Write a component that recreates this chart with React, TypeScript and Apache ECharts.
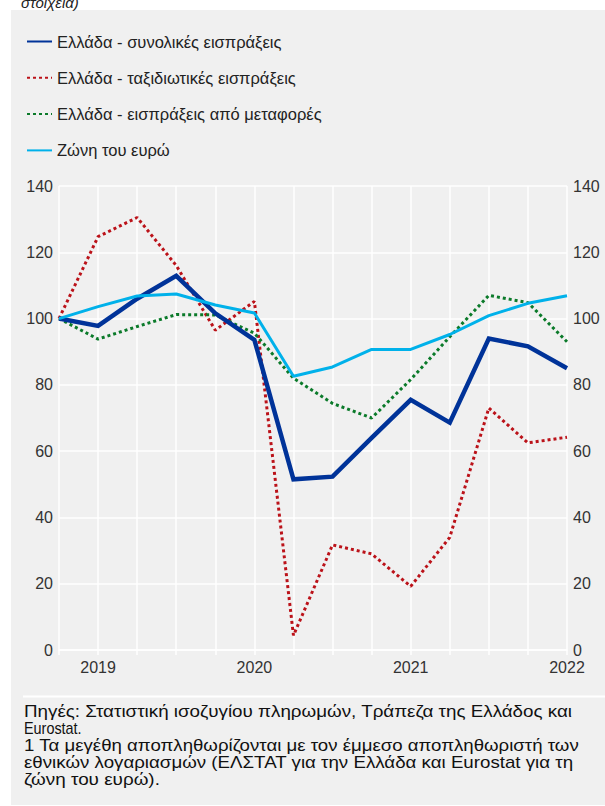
import React, { useEffect, useRef } from "react";
import * as echarts from "echarts";

// Quarters (index 0 = base period, index 1 = 2019 Q1 ... index 13 = 2022 Q1)
const categories = [
  "2018Q4", "2019Q1", "2019Q2", "2019Q3", "2019Q4",
  "2020Q1", "2020Q2", "2020Q3", "2020Q4",
  "2021Q1", "2021Q2", "2021Q3", "2021Q4", "2022Q1",
];

const seriesNames = [
  "Ελλάδα - συνολικές εισπράξεις",
  "Ελλάδα - ταξιδιωτικές εισπράξεις",
  "Ελλάδα - εισπράξεις από μεταφορές",
  "Ζώνη του ευρώ",
];

const greeceTotal = [100, 97.8, 106, 112.9, 101.6, 93.6, 51.5, 52.3, 64, 75.5, 68.6, 94, 91.6, 85];
const greeceTravel = [100, 124.7, 130.5, 116, 96.5, 105.2, 4.4, 31.7, 29, 19.2, 34, 73, 62.5, 64.2];
const greeceTransport = [100, 93.8, 97.6, 101.2, 101.1, 95.6, 82, 74.4, 70, 81.6, 94.5, 107, 104.8, 93];
const euroArea = [100, 103.6, 106.8, 107.4, 104.1, 101.7, 82.6, 85.4, 90.7, 90.7, 95.2, 100.9, 104.6, 106.9];

const yMin = 0;
const yMax = 140;
const yInterval = 20;

const headerText = "στοιχεία)";
const footnoteLines = [
  "Πηγές: Στατιστική ισοζυγίου πληρωμών, Τράπεζα της Ελλάδος και",
  "Eurostat.",
  "1 Τα μεγέθη αποπληθωρίζονται με τον έμμεσο αποπληθωριστή των",
  "εθνικών λογαριασμών (ΕΛΣΤΑΤ για την Ελλάδα και Eurostat για τη",
  "ζώνη του ευρώ).",
];

// horizontal stretch applied to each footnote line so the widths follow the original typeface
const footnoteStretch = [1.175, 0.9, 1.165, 1.17, 1.18];

const FONT = "'Liberation Sans', Arial, Helvetica, sans-serif";
const BG = "#f0f0f0";
const TXT = "#222222";

export default function App() {
  const ref = useRef<HTMLDivElement>(null);

  useEffect(() => {
    if (!ref.current) return;
    const chart = echarts.init(ref.current, undefined, { renderer: "svg" });

    const yAxisBase = {
      type: "value",
      min: yMin,
      max: yMax,
      interval: yInterval,
      axisLine: { show: false },
      axisTick: { show: false },
    };

    const footnoteTop = 711.5;
    const footnoteLead = 17;

    chart.setOption({
      animation: false,
      backgroundColor: "#ffffff",
      textStyle: { fontFamily: FONT },
      grid: { left: 59, right: 38, top: 186, bottom: 156, containLabel: false },
      legend: {
        orient: "vertical",
        left: 21,
        top: 28,
        itemWidth: 25,
        itemHeight: 16,
        itemGap: 19.3,
        data: seriesNames,
        itemStyle: { opacity: 0 },
        textStyle: { color: TXT, fontSize: 16.5, fontFamily: FONT },
        selectedMode: false,
      },
      xAxis: {
        type: "category",
        data: categories,
        boundaryGap: false,
        axisLine: { show: true, lineStyle: { color: "#ffffff", width: 1.5 } },
        axisTick: { show: true, interval: 0, length: 5, lineStyle: { color: "#ffffff", width: 1.5 } },
        splitLine: { show: true, interval: 0, lineStyle: { color: "#ffffff", width: 1.5 } },
        axisLabel: {
          interval: 0,
          margin: 9,
          color: "#333333",
          fontSize: 16,
          fontFamily: FONT,
          formatter: (v: string) => (v.endsWith("Q1") ? v.slice(0, 4) : ""),
        },
      },
      yAxis: [
        {
          ...yAxisBase,
          position: "left",
          splitLine: { show: true, lineStyle: { color: "#ffffff", width: 1.5 } },
          axisLabel: { margin: 6, color: "#333333", fontSize: 16, fontFamily: FONT },
        },
        {
          ...yAxisBase,
          position: "right",
          splitLine: { show: false },
          axisLabel: { margin: 6, color: "#333333", fontSize: 16, fontFamily: FONT },
        },
      ],
      series: [
        {
          name: seriesNames[0],
          type: "line",
          data: greeceTotal,
          symbol: "none",
          z: 4,
          lineStyle: { color: "#003399", width: 4.5, cap: "butt", join: "miter" },
          itemStyle: { color: "#003399" },
        },
        {
          name: seriesNames[1],
          type: "line",
          data: greeceTravel,
          symbol: "none",
          z: 3,
          lineStyle: { color: "#bb1219", width: 3, type: [3, 3], cap: "butt" },
          itemStyle: { color: "#bb1219" },
        },
        {
          name: seriesNames[2],
          type: "line",
          data: greeceTransport,
          symbol: "none",
          z: 3,
          lineStyle: { color: "#0b7a2a", width: 3, type: [3, 3], cap: "butt" },
          itemStyle: { color: "#0b7a2a" },
        },
        {
          name: seriesNames[3],
          type: "line",
          data: euroArea,
          symbol: "none",
          z: 5,
          lineStyle: { color: "#00b1ea", width: 3 },
          itemStyle: { color: "#00b1ea" },
        },
      ],
      graphic: [
        {
          type: "rect",
          z: -100,
          silent: true,
          shape: { x: 11, y: 10, width: 600, height: 795 },
          style: { fill: BG },
        },
        {
          type: "text",
          z: 10,
          x: 21,
          y: -5,
          style: {
            text: headerText,
            font: `italic 15px ${FONT}`,
            fill: TXT,
            textVerticalAlign: "top",
          },
        },
        {
          type: "rect",
          z: 10,
          silent: true,
          shape: { x: 23, y: 695.5, width: 590, height: 2 },
          style: { fill: "#ffffff" },
        },
        ...footnoteLines.map((line, i) => ({
          type: "text",
          z: 10,
          x: 24,
          y: footnoteTop + i * footnoteLead,
          scaleX: footnoteStretch[i],
          style: {
            text: line,
            font: `16px ${FONT}`,
            fill: "#111111",
            textVerticalAlign: "middle",
          },
        })),
      ],
    });

    return () => chart.dispose();
  }, []);

  return (
    <div
      ref={ref}
      style={{ position: "absolute", left: 0, top: 0, width: 605, height: 806 }}
    />
  );
}
